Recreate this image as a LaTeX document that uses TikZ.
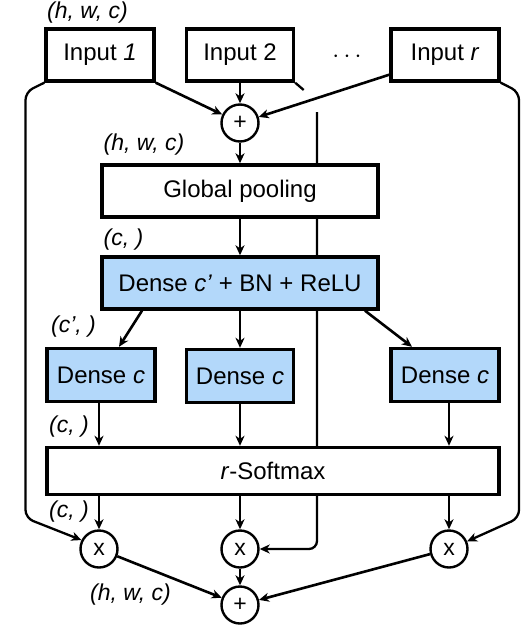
\documentclass[tikz,border=0pt]{standalone}
\usepackage{fontspec}
\setmainfont{Liberation Sans}
\usetikzlibrary{arrows.meta,backgrounds}
\definecolor{boxblue}{RGB}{179,216,250}
\begin{document}
\begin{tikzpicture}[x=1pt,y=-1pt,
  box/.style={draw, line width=3.4pt, fill=white, minimum height=52pt, inner sep=0pt, font=\fontsize{24}{28}\selectfont},
  bluebox/.style={box, fill=boxblue},
  op/.style={draw, circle, line width=2.4pt, minimum size=37pt, inner sep=0pt, fill=white, font=\fontsize{23}{27}\selectfont},
  arr/.style={line width=2.6pt, -{Stealth[length=10pt,width=9pt,inset=3pt]}},
  byp/.style={line width=2.3pt, rounded corners=8pt},
  dim/.style={font=\itshape\fontsize{23}{27}\selectfont, inner sep=0pt, anchor=west}]
\useasboundingbox (0,0) rectangle (532,642);

% inputs
\node[box, minimum width=108pt] (in1) at (100,55) {Input \textit{1}};
\node[box, minimum width=107pt] (in2) at (240,55) {Input 2};
\node[box, minimum width=108pt] (inr) at (445,55) {Input \textit{r}};
\node[font=\fontsize{24}{28}\selectfont, inner sep=0pt] (dots) at (347,57) {$\cdots$};

\node[op] (p1) at (240,123) {+};
\node[box, minimum width=276pt] (gp) at (240,191) {Global pooling};
\node[bluebox, minimum width=276pt] (dc) at (240,283) {Dense \textit{c’} + BN + ReLU};
\node[bluebox, minimum width=108pt, minimum height=53pt] (d1) at (101,375) {Dense \textit{c}};
\node[bluebox, minimum width=107pt, minimum height=53pt] (d2) at (240,376) {Dense \textit{c}};
\node[bluebox, minimum width=108pt, minimum height=53pt] (d3) at (445,375) {Dense \textit{c}};
\node[box, minimum width=452pt, minimum height=47pt] (sm) at (273,471) {\textit{r}-Softmax};
\node[op] (m1) at (99,549) {x};
\node[op] (m2) at (240,549) {x};
\node[op] (m3) at (449,549) {x};
\node[op] (p2) at (240,605) {+};

% dimension labels
\node[dim] (l1) at (47,13) {(h, w, c)};
\node[dim] (l2) at (103.5,145) {(h, w, c)};
\node[dim] (l3) at (103.5,240) {(c, )};
\node[dim] (l4) at (51,327) {(c’, )};
\node[dim] (l5) at (49,427) {(c, )};
\node[dim] (l6) at (49,512) {(c, )};
\node[dim] (l7) at (90,595) {(h, w, c)};

% coordinates
\coordinate (inrS) at ([yshift=8pt]inr.south west);
\coordinate (lA) at (25.5,92);
\coordinate (lB) at (25.5,518);
\coordinate (rA) at (519,92);
\coordinate (rB) at (519,518);
\coordinate (mA) at (303.7,90);
\coordinate (mB) at (317,112);

% arrows into first sum
\draw[arr] (in1.south east) -- (p1);
\draw[arr] (in2.south) -- (p1.north);
\draw[arr] (inrS) -- (p1);

\draw[arr] (p1.south) -- (gp.north);
\draw[arr] (gp.south) -- (dc.north);

\draw[arr] ([xshift=-98pt]dc.south) -- ([xshift=18pt]d1.north);
\draw[arr] (dc.south) -- (d2.north);
\draw[arr] ([xshift=125pt]dc.south) -- ([xshift=-33pt]d3.north);

\draw[arr] (d1.south -| m1) -- (sm.north -| m1);
\draw[arr] (d2.south -| m2) -- (sm.north -| m2);
\draw[arr] (d3.south -| m3) -- (sm.north -| m3);

\draw[arr] (sm.south -| m1) -- (m1.north);
\draw[arr] (sm.south -| m2) -- (m2.north);
\draw[arr] (sm.south -| m3) -- (m3.north);

\draw[arr] (m1) -- (p2);
\draw[arr] (m2) -- (p2);
\draw[arr] (m3) -- (p2);

% bypass connections
\draw[arr, byp] (in1.south west) -- (lA) -- (lB) -- (m1.153);
\draw[arr, byp] (inr.south east) -- (rA) -- (rB) -- (m3.23);
\draw[byp] (in2.south east) -- (mA);
\begin{pgfonlayer}{background}
\draw[arr, byp] (mB) |- (m2.east);
\end{pgfonlayer}
\end{tikzpicture}
\end{document}
